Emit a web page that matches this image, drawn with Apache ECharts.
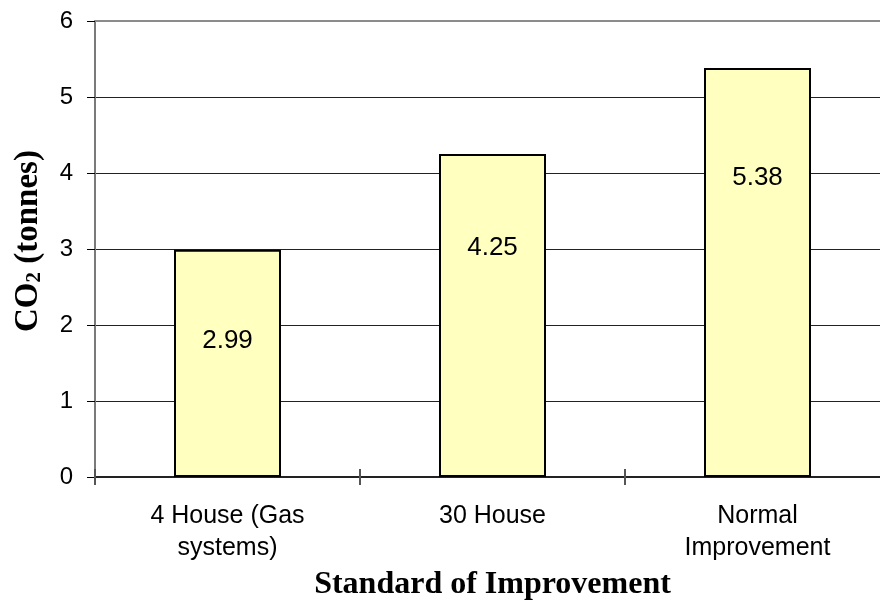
<!DOCTYPE html>
<html>
<head>
<meta charset="utf-8">
<script src="https://cdn.jsdelivr.net/npm/echarts@6/dist/echarts.min.js"></script>
<style>
  html, body { margin: 0; padding: 0; background: #ffffff; }
  #chart { width: 880px; height: 602px; }
</style>
</head>
<body>
<div id="chart"></div>
<script>
// Categories and CO2 values (tonnes)
const categories = ['4 House (Gas\nsystems)', '30 House', 'Normal\nImprovement'];
const co2Values = [2.99, 4.25, 5.38];
const yTicks = { min: 0, max: 6, step: 1 };

// Vertical placement of each value label, measured down from the bar top (px)
const labelDrop = [91, 94, 110];

const sans = 'Liberation Sans, Arial, sans-serif';
const serif = 'Liberation Serif, Times New Roman, serif';

const chart = echarts.init(document.getElementById('chart'), null, { renderer: 'canvas' });

const barData = co2Values.map((v, i) => ({
  value: v,
  label: { position: ['50%', labelDrop[i]] }
}));

chart.setOption({
  animation: false,
  backgroundColor: '#ffffff',
  grid: { left: 95, top: 21, width: 795, height: 456, containLabel: false, outerBoundsMode: 'none' },
  xAxis: [
    {
      type: 'category',
      data: categories,
      position: 'bottom',
      axisLine: { show: true, lineStyle: { color: '#222', width: 2 } },
      axisTick: { show: true, inside: false, length: 8, alignWithLabel: false, lineStyle: { color: '#555', width: 2 } },
      axisLabel: { fontFamily: sans, fontSize: 25, color: '#000', margin: 23, lineHeight: 32, interval: 0 },
      name: 'Standard of Improvement',
      nameLocation: 'middle',
      nameGap: 88,
      nameTextStyle: { fontFamily: serif, fontWeight: 'bold', fontSize: 32, color: '#000' }
    },
    {
      // inner half of the crossing category ticks
      type: 'category',
      data: categories,
      position: 'bottom',
      axisLine: { show: false },
      axisTick: { show: true, inside: true, length: 8, lineStyle: { color: '#555', width: 2 } },
      axisLabel: { show: false }
    },
    {
      // plot-area border along the top
      type: 'category',
      data: categories,
      position: 'top',
      axisLine: { show: true, lineStyle: { color: '#8c8c8c', width: 2 } },
      axisTick: { show: false },
      axisLabel: { show: false }
    }
  ],
  yAxis: {
    type: 'value',
    min: yTicks.min,
    max: yTicks.max,
    interval: yTicks.step,
    axisLine: { show: true, lineStyle: { color: '#7a7a7a', width: 2 } },
    axisTick: { show: true, inside: false, length: 8, lineStyle: { color: '#000', width: 1 } },
    axisLabel: { fontFamily: sans, fontSize: 24, color: '#000', margin: 22 },
    splitLine: { show: true, lineStyle: { color: '#222', width: 1 } },
    name: '{b|CO}{s|2}{b| (tonnes)}',
    nameLocation: 'middle',
    nameGap: 50,
    nameTextStyle: {
      padding: [0, 0, 0, 16],
      rich: {
        b: { fontFamily: serif, fontWeight: 'bold', fontSize: 33, color: '#000', lineHeight: 34 },
        s: { fontFamily: serif, fontWeight: 'bold', fontSize: 21, color: '#000', lineHeight: 34, verticalAlign: 'bottom', padding: [14, 0, 0, 0] }
      }
    }
  },
  series: [
    {
      type: 'bar',
      xAxisIndex: 0,
      data: barData,
      barWidth: 107,
      itemStyle: { color: '#ffffc0', borderColor: '#000', borderWidth: 2 },
      label: {
        show: true,
        align: 'center',
        verticalAlign: 'middle',
        fontFamily: sans,
        fontSize: 26,
        color: '#000',
        formatter: p => p.value.toFixed(2)
      }
    }
  ]
});
</script>
</body>
</html>
